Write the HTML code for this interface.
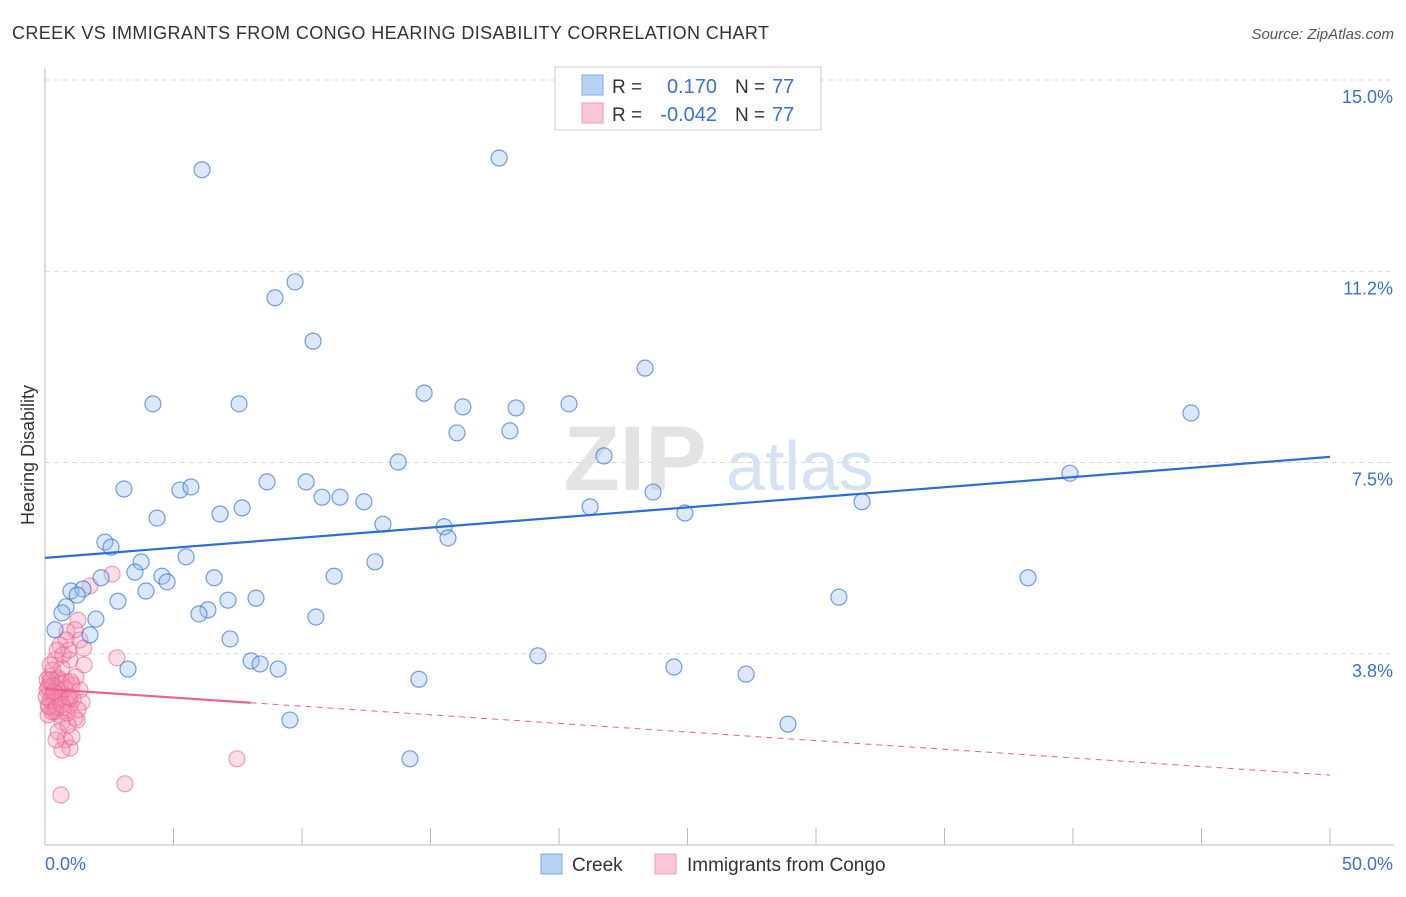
<!DOCTYPE html>
<html><head><meta charset="utf-8"><style>
body{margin:0;background:#fff;font-family:"Liberation Sans",sans-serif;}
svg text{font-family:"Liberation Sans",sans-serif;}
</style></head><body>
<svg id="chart" width="1406" height="892">
<text x="12" y="39" font-size="18" fill="#333" textLength="757">CREEK VS IMMIGRANTS FROM CONGO HEARING DISABILITY CORRELATION CHART</text>
<text x="1394" y="39" font-size="15" fill="#555" text-anchor="end" font-style="italic">Source: ZipAtlas.com</text>
<text x="34" y="455" font-size="18" fill="#333" transform="rotate(-90 34 455)" text-anchor="middle">Hearing Disability</text>
<g id="grid"></g>
<g id="wm">
<text x="635" y="490" font-size="92" fill="#e3e3e3" font-family="Liberation Serif" text-anchor="middle" font-weight="bold">ZIP</text>
<text x="800" y="490" font-size="70" fill="#d4e2f4" text-anchor="middle">atlas</text>
</g>
<g id="axes"></g>
<g id="pts"></g>
<g id="lines"></g>
<g>
<rect x="555" y="67" width="266" height="63" fill="#fff" stroke="#ccc"/>
<rect x="582" y="75" width="21" height="20" fill="#b8d2f4" stroke="#7fa9e6"/>
<rect x="582" y="103" width="21" height="20" fill="#fbc6d5" stroke="#f09ab3"/>
<text x="612" y="93" font-size="19" fill="#333">R = </text>
<text x="717" y="93" font-size="20" fill="#3a72d0" text-anchor="end">0.170</text>
<text x="735" y="93" font-size="19" fill="#333">N = </text>
<text x="772" y="93" font-size="20" fill="#3a72d0">77</text>
<text x="612" y="121" font-size="19" fill="#333">R = </text>
<text x="717" y="121" font-size="20" fill="#3a72d0" text-anchor="end">-0.042</text>
<text x="735" y="121" font-size="19" fill="#333">N = </text>
<text x="772" y="121" font-size="20" fill="#3a72d0">77</text>
</g>
<g>
<rect x="541" y="854" width="21" height="20" fill="#b8d2f4" stroke="#7fa9e6"/>
<text x="572" y="871" font-size="19" fill="#333">Creek</text>
<rect x="655" y="854" width="21" height="20" fill="#fbc6d5" stroke="#f09ab3"/>
<text x="687" y="871" font-size="19" fill="#333">Immigrants from Congo</text>
</g>
</svg>
<script>
const yTicks=[15.0,11.25,7.5,3.75];
const yTickLabels=["15.0%","11.2%","7.5%","3.8%"];
const xTickLabels=["0.0%","50.0%"];
const creekX=[6.11,17.67,9.73,8.95,10.43,23.35,14.75,4.20,7.55,16.26,18.33,20.39,44.59,16.03,18.09,13.74,21.75,39.88,3.07,5.25,5.68,8.64,10.16,10.78,11.48,12.41,23.66,31.79,4.36,6.81,7.67,13.15,21.21,24.90,15.53,15.68,2.33,2.57,3.74,5.49,12.84,3.50,4.55,4.75,6.58,11.25,38.25,2.18,1.01,1.48,1.25,3.93,2.84,6.34,5.99,7.12,8.21,30.89,10.54,0.82,0.66,1.98,0.39,1.75,7.20,8.02,8.37,9.07,3.23,19.18,24.47,27.28,14.55,9.53,28.91,14.20];
const creekY=[13.24,13.47,11.04,10.73,9.88,9.35,8.86,8.65,8.65,8.59,8.57,8.65,8.47,8.08,8.12,7.51,7.63,7.29,6.98,6.96,7.02,7.12,7.12,6.82,6.82,6.73,6.92,6.73,6.41,6.49,6.61,6.29,6.63,6.51,6.24,6.02,5.94,5.84,5.55,5.65,5.55,5.35,5.27,5.16,5.24,5.27,5.24,5.24,4.98,5.02,4.90,4.98,4.78,4.61,4.53,4.80,4.84,4.86,4.47,4.67,4.55,4.43,4.22,4.12,4.04,3.61,3.55,3.45,3.45,3.71,3.49,3.35,3.25,2.45,2.37,1.69];
const congoX=[2.61,1.75,1.28,0.86,0.58,1.36,0.97,0.39,0.66,1.52,2.80,0.19,0.51,1.05,0.19,0.58,1.36,0.78,0.12,0.39,0.97,1.44,0.58,1.17,0.12,0.66,1.25,0.51,0.78,0.97,0.66,0.43,1.05,7.47,0.62,3.11,0.2,0.3,0.35,0.45,0.5,0.6,0.08,0.08,0.2,0.3,0.82,0.9,1.1,1.21,0.7,0.93,1.5,1.17,0.82,0.47,0.2,0.27,0.74,1.28,0.9,0.39,0.55,0.15,0.31,0.47,0.62,0.78,1.01,0.05,0.12,0.23,0.35,0.43,0.66,0.86,0.97];
const congoY=[5.31,5.08,4.41,4.18,3.92,4.02,3.63,3.63,3.47,3.53,3.67,3.31,3.24,3.14,3.04,3.04,3.04,2.84,2.75,2.65,2.75,2.80,2.55,2.49,2.55,2.41,2.45,2.22,2.06,1.90,1.86,2.06,2.12,1.69,0.98,1.20,3.18,2.94,2.84,3.08,3.28,2.90,3.24,3.04,2.84,3.43,3.20,2.92,2.86,3.30,3.73,3.82,3.86,4.22,4.02,3.82,3.53,2.61,2.69,2.65,2.35,2.61,2.88,2.71,3.12,2.96,3.16,3.06,3.20,2.90,3.10,3.24,3.00,2.71,2.75,2.59,2.88];
const creekLine=[5.63,7.61];
const congoLine=[3.06,1.37];
const congoSolidEnd=8.0;
const X0=45,X1=1330,YTOP=80,YBOT=845;
const xs=v=>X0+(v/50)*(X1-X0);
const ys=v=>YBOT-(v/15)*(YBOT-YTOP);
const NS="http://www.w3.org/2000/svg";
function mk(tag,attrs,parent){const e=document.createElementNS(NS,tag);for(const k in attrs)e.setAttribute(k,attrs[k]);parent.appendChild(e);return e;}
const grid=document.getElementById('grid'),axes=document.getElementById('axes'),pts=document.getElementById('pts'),lines=document.getElementById('lines');
yTicks.forEach((t,i)=>{
 const l=mk('line',{x1:X0,x2:1394,y1:ys(t),y2:ys(t),stroke:'#d8d8d8','stroke-dasharray':'5,4'},grid);
 
 
 const tx=mk('text',{x:1393,y:ys(t)+23,'font-size':18,fill:'#3a72d0','text-anchor':'end'},axes);
 tx.textContent=yTickLabels[i];
 
 
});
mk('line',{x1:X0,x2:X0,y1:68,y2:YBOT,stroke:'#bbb'},axes);
mk('line',{x1:X0,x2:1394,y1:YBOT,y2:YBOT,stroke:'#bbb'},axes);
for(let i=1;i<=10;i++){mk('line',{x1:xs(i*5),x2:xs(i*5),y1:828,y2:YBOT,stroke:'#bbb'},axes);}
const xl0=mk('text',{x:45,y:870,'font-size':18,fill:'#3a72d0'},axes);xl0.textContent=xTickLabels[0];


const xl1=mk('text',{x:1393,y:870,'font-size':18,fill:'#3a72d0','text-anchor':'end'},axes);xl1.textContent=xTickLabels[1];


congoX.forEach((x,i)=>{
 const c=mk('circle',{cx:xs(x),cy:ys(congoY[i]),r:8,fill:'rgba(244,143,177,0.3)',stroke:'rgba(232,100,140,0.6)','stroke-width':1.2},pts);
 
 
});
creekX.forEach((x,i)=>{
 const c=mk('circle',{cx:xs(x),cy:ys(creekY[i]),r:8,fill:'rgba(150,190,240,0.35)',stroke:'rgba(60,120,210,0.7)','stroke-width':1.2},pts);
 
 
});
const bl=mk('line',{x1:xs(0),y1:ys(creekLine[0]),x2:xs(50),y2:ys(creekLine[1]),stroke:'#2a6fd6','stroke-width':2.2},lines);


const pm=(congoLine[1]-congoLine[0])/50;
const ps=mk('line',{x1:xs(0),y1:ys(congoLine[0]),x2:xs(congoSolidEnd),y2:ys(congoLine[0]+pm*congoSolidEnd),stroke:'#e8638e','stroke-width':2.2},lines);


const pd=mk('line',{x1:xs(congoSolidEnd),y1:ys(congoLine[0]+pm*congoSolidEnd),x2:xs(50),y2:ys(congoLine[1]),stroke:'#e8638e','stroke-width':1,'stroke-dasharray':'6,5'},lines);


</script>
</body></html>
